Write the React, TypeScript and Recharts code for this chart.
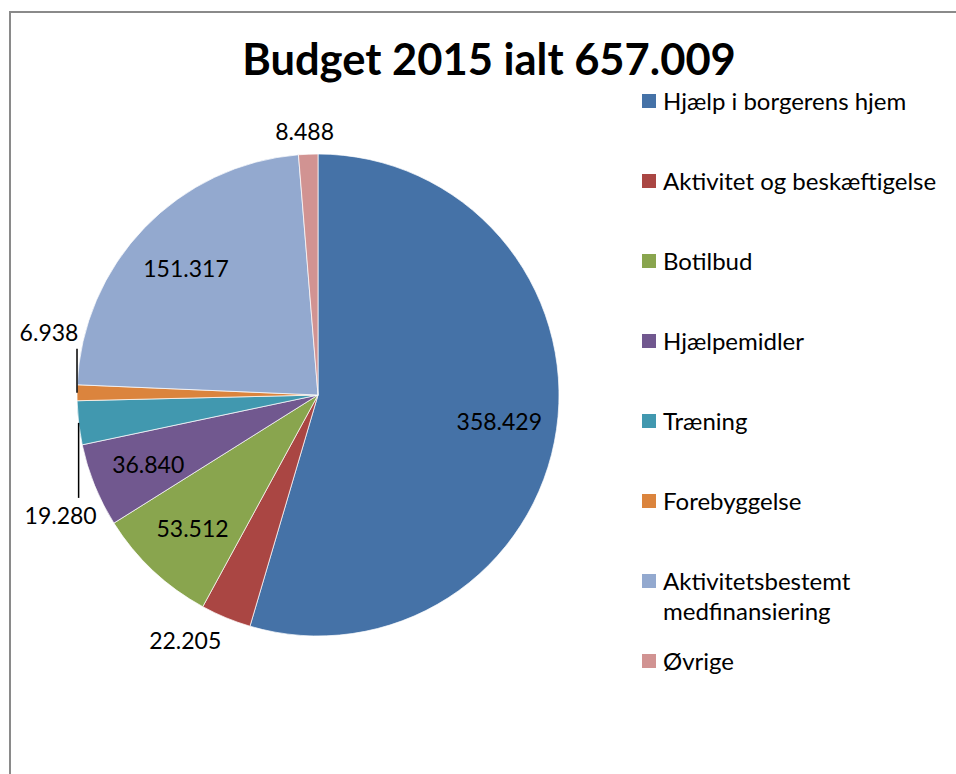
import React from "react";
import { PieChart, Pie, Cell, Legend } from "recharts";

const categories = [
  "Hjælp i borgerens hjem",
  "Aktivitet og beskæftigelse",
  "Botilbud",
  "Hjælpemidler",
  "Træning",
  "Forebyggelse",
  "Aktivitetsbestemt medfinansiering",
  "Øvrige",
];
const values = [358429, 22205, 53512, 36840, 19280, 6938, 151317, 8488];
const colors = ["#4572A7", "#AA4643", "#89A54E", "#71588F", "#4198AF", "#DB843D", "#93A9CF", "#D19392"];

// small slices whose labels Excel pulled away with a leader line (px, + = down)
const leaders: Record<string, number> = { "Træning": 75, "Forebyggelse": -44 };

const FONT = "Lato, 'Open Sans', sans-serif";
const RAD = Math.PI / 180;

const fmt = (v: number) => String(v).replace(/\B(?=(\d{3})+(?!\d))/g, ".");
const total = values.reduce((a, b) => a + b, 0);
const data = categories.map((name, i) => ({ name, value: values[i] }));

const clamp = (v: number) => Math.max(-1, Math.min(1, v));

const renderLabel = (p: any) => {
  const { cx, cy, midAngle, outerRadius, percent, value, name } = p;
  const ux = Math.cos(midAngle * RAD);
  const uy = -Math.sin(midAngle * RAD);
  const text = fmt(value);
  const fs = 23;
  const common = { fontFamily: FONT, fontSize: fs, fill: "#000", dominantBaseline: "central" as const };

  if (leaders[name] !== undefined) {
    const len = leaders[name];
    const ex = cx + outerRadius * ux;
    const ey = cy + outerRadius * uy;
    const ey2 = ey + len;
    return (
      <g>
        <line x1={ex} y1={ey} x2={ex} y2={ey2} stroke="#000" strokeWidth={1.5} />
        <text x={ex + (len < 0 ? -28 : -18)} y={ey2 + Math.sign(len) * 17} textAnchor="middle" {...common}>
          {text}
        </text>
      </g>
    );
  }
  if (percent > 0.05) {
    const r = outerRadius * 0.76;
    return (
      <text x={cx + r * ux} y={cy + r * uy} textAnchor="middle" {...common}>
        {text}
      </text>
    );
  }
  const a = outerRadius + 12;
  const w = (text.length - 1) * 0.58 * fs + 0.25 * fs;
  const h = fs;
  const x = cx + a * ux + clamp(ux * 2.6) * (w / 2);
  const y = cy + a * uy + clamp(uy * 2.6) * (h / 2);
  return (
    <text x={x} y={y} textAnchor="middle" {...common}>
      {text}
    </text>
  );
};

const renderLegend = (props: any) => {
  const items = [...(props.payload || [])].sort(
    (a: any, b: any) => categories.indexOf(a.value) - categories.indexOf(b.value)
  );
  return (
    <div style={{ fontFamily: FONT, fontSize: 24, color: "#000" }}>
      {items.map((entry: any, i: number) => (
        <div key={i} style={{ position: "relative", height: 80 }}>
          <span
            style={{
              position: "absolute",
              left: 0,
              top: 8,
              width: 14,
              height: 14,
              background: colors[categories.indexOf(entry.value)],
            }}
          />
          <div style={{ position: "absolute", left: 21, top: 0, width: 290, lineHeight: "30px" }}>
            {entry.value}
          </div>
        </div>
      ))}
    </div>
  );
};

export default function App() {
  return (
    <div style={{ position: "absolute", left: 0, top: 0, width: 956, height: 774, overflow: "hidden", background: "#fff" }}>
      <div
        style={{
          position: "absolute",
          left: 9,
          top: 11,
          width: 1000,
          height: 800,
          border: "2px solid #8a8a8a",
        }}
      />
      <svg width={956} height={100} style={{ position: "absolute", left: 0, top: 0 }}>
        <text x={489} y={75} textAnchor="middle" fontFamily={FONT} fontWeight="bold" fontSize={43.5} fill="#000">
          {`Budget 2015 ialt ${fmt(total)}`}
        </text>
      </svg>
      <div style={{ position: "absolute", left: 0, top: 0 }}>
        <PieChart width={956} height={774} margin={{ top: 0, right: 0, bottom: 0, left: 0 }}>
          <Pie
            data={data}
            dataKey="value"
            nameKey="name"
            cx={318}
            cy={395}
            outerRadius={241}
            startAngle={90}
            endAngle={-270}
            stroke="#ffffff"
            strokeWidth={0.7}
            label={renderLabel}
            labelLine={false}
            isAnimationActive={false}
          >
            {data.map((d, i) => (
              <Cell key={d.name} fill={colors[i]} />
            ))}
          </Pie>
          <Legend
            layout="vertical"
            align="right"
            verticalAlign="top"
            content={renderLegend}
            wrapperStyle={{ left: 642, top: 86, width: 310 }}
          />
        </PieChart>
      </div>
    </div>
  );
}
